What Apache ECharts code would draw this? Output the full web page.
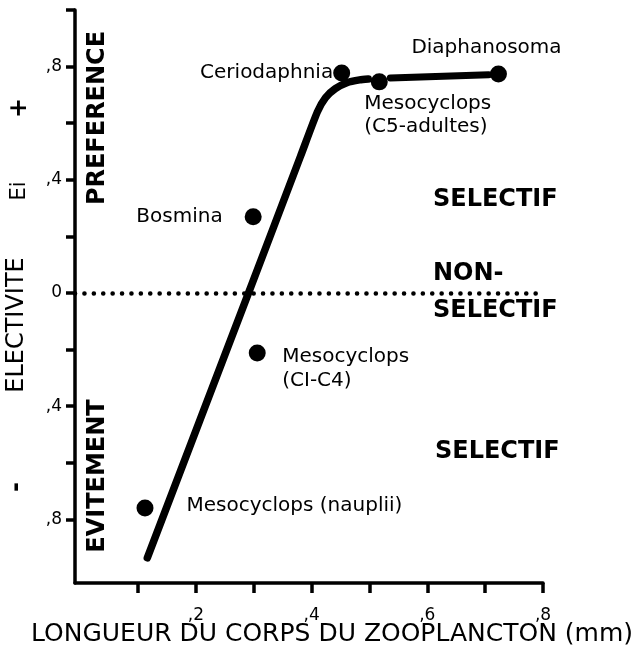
<!DOCTYPE html>
<html>
<head>
<meta charset="utf-8">
<script src="https://cdn.jsdelivr.net/npm/echarts@6/dist/echarts.min.js"></script>
<style>
html,body{margin:0;padding:0;background:#fff;}
#chart{width:642px;height:654px;}
</style>
</head>
<body>
<div id="chart"></div>
<script>
// ---- data ----
const categories = ['Ceriodaphnia', 'Mesocyclops (C5-adultes)', 'Diaphanosoma', 'Bosmina', 'Mesocyclops (CI-C4)', 'Mesocyclops (nauplii)'];
const pointLabels = ['Ceriodaphnia', 'Mesocyclops\n(C5-adultes)', 'Diaphanosoma', 'Bosmina', 'Mesocyclops\n(CI-C4)', 'Mesocyclops (nauplii)'];
const bodyLength = [0.452, 0.517, 0.723, 0.299, 0.306, 0.112];
const electivity = [0.777, 0.746, 0.774, 0.269, -0.212, -0.760];

const curveX = [0.116, 0.291, 0.381, 0.410, 0.424, 0.441, 0.461, 0.483, 0.498];
const curveY = [-0.936, 0.000, 0.484, 0.640, 0.690, 0.722, 0.743, 0.753, 0.756];
const plateauX = [0.536, 0.706];
const plateauY = [0.760, 0.771];

const xTickValues = [0.1, 0.2, 0.3, 0.4, 0.5, 0.6, 0.7, 0.8];
const xLabelValues = [0.2, 0.4, 0.6, 0.8];
const xTickLabels = [',2', ',4', ',6', ',8'];
const yTickValues = [-0.8, -0.6, -0.4, -0.2, 0, 0.2, 0.4, 0.6, 0.8, 1.0];
const yLabelValues = [-0.8, -0.4, 0, 0.4, 0.8];
const yTickLabels = [',8', ',4', '0', ',4', ',8'];

const xTitle = 'LONGUEUR DU CORPS DU ZOOPLANCTON (mm)';
const yTitleParts = ['ELECTIVITE', 'Ei', '+', '-'];
const zoneLabels = ['PREFERENCE', 'EVITEMENT'];
const selectLabels = ['SELECTIF', 'NON-', 'SELECTIF', 'SELECTIF'];

// ---- layout / styles ----
const FONT = 'DejaVu Sans';
const labelLayouts = [
  { position: 'left', distance: 0 },
  { position: [-6.5, 19], align: 'left', verticalAlign: 'top', lineHeight: 23 },
  { position: 'top', distance: 8, offset: [-12, 0] },
  { position: 'left', distance: 22 },
  { position: [33.5, 0.5], align: 'left', verticalAlign: 'top', lineHeight: 24 },
  { position: 'right', distance: 33, offset: [0, -2] }
];

function nearestLabel(v, values, labels) {
  for (let i = 0; i < values.length; i++) if (Math.abs(values[i] - v) < 1e-6) return labels[i];
  return '';
}

const chart = echarts.init(document.getElementById('chart'), null, { renderer: 'canvas' });

const scatterData = bodyLength.map((x, i) => ({
  name: categories[i],
  value: [x, electivity[i]],
  label: Object.assign({
    show: true,
    formatter: pointLabels[i],
    color: '#000',
    opacity: 1,
    fontFamily: FONT,
    fontSize: 20
  }, labelLayouts[i])
}));

const txt = (text, x, y, opts) => Object.assign({
  type: 'text',
  x: x, y: y,
  style: Object.assign({
    text: text,
    fill: '#000',
    font: '20px "' + FONT + '"',
    align: 'center',
    verticalAlign: 'middle'
  }, opts && opts.style || {}),
}, opts && opts.el || {});

const rot = Math.PI / 2;

chart.setOption({
  backgroundColor: '#fff',
  animation: false,
  grid: { left: 75, right: 99, top: 10, bottom: 71, containLabel: false },
  xAxis: {
    type: 'value',
    min: -0.009,
    max: 0.8,
    axisLine: { show: true, onZero: false, lineStyle: { color: '#000', width: 3.5 } },
    axisTick: { show: true, inside: false, length: 10, customValues: xTickValues, lineStyle: { color: '#000', width: 3.5 } },
    axisLabel: {
      customValues: xLabelValues,
      margin: 24,
      color: '#000',
      fontFamily: FONT,
      fontSize: 17,
      formatter: v => nearestLabel(v, xLabelValues, xTickLabels)
    },
    splitLine: { show: false }
  },
  yAxis: {
    type: 'value',
    min: -1.025,
    max: 1.0,
    axisLine: { show: true, onZero: false, lineStyle: { color: '#000', width: 3.5 } },
    axisTick: { show: true, inside: false, length: 9, customValues: yTickValues, lineStyle: { color: '#000', width: 3.5 } },
    axisLabel: {
      customValues: yLabelValues,
      margin: 13,
      color: '#000',
      fontFamily: FONT,
      fontSize: 17,
      formatter: v => nearestLabel(v, yLabelValues, yTickLabels)
    },
    splitLine: { show: false }
  },
  series: [
    {
      type: 'line',
      name: 'courbe',
      data: curveX.map((x, i) => [x, curveY[i]]),
      smooth: 0.2,
      symbol: 'none',
      lineStyle: { color: '#000', width: 7.5, cap: 'round', join: 'round' },
      markLine: {
        silent: true,
        symbol: 'none',
        label: { show: false },
        lineStyle: { color: '#000', width: 4.5, type: [0.1, 9.3], cap: 'round' },
        data: [{ yAxis: 0 }]
      },
      z: 2
    },
    {
      type: 'line',
      name: 'plateau',
      data: plateauX.map((x, i) => [x, plateauY[i]]),
      symbol: 'none',
      lineStyle: { color: '#000', width: 7, cap: 'round' },
      z: 2
    },
    {
      type: 'scatter',
      name: 'points',
      data: scatterData,
      symbol: 'circle',
      symbolSize: 17,
      itemStyle: { color: '#000', opacity: 1 },
      z: 3
    }
  ],
  graphic: [
    txt(yTitleParts[0], 17, 325, { style: { font: '24px "' + FONT + '"' }, el: { rotation: rot } }),
    txt(yTitleParts[1], 20, 191, { style: { font: '21px "' + FONT + '"' }, el: { rotation: rot } }),
    txt(yTitleParts[2], 20, 108, { style: { font: 'bold 24px "' + FONT + '"' }, el: { rotation: rot } }),
    txt(yTitleParts[3], 17, 487, { style: { font: 'bold 24px "' + FONT + '"' }, el: { rotation: rot } }),
    txt(zoneLabels[0], 98, 118, { style: { font: 'bold 24px "' + FONT + '"' }, el: { rotation: rot } }),
    txt(zoneLabels[1], 98, 476, { style: { font: 'bold 24px "' + FONT + '"' }, el: { rotation: rot } }),
    txt(selectLabels[0], 433, 200, { style: { font: 'bold 24px "' + FONT + '"', align: 'left' } }),
    txt(selectLabels[1], 433, 274, { style: { font: 'bold 24px "' + FONT + '"', align: 'left' } }),
    txt(selectLabels[2], 433, 311, { style: { font: 'bold 24px "' + FONT + '"', align: 'left' } }),
    txt(selectLabels[3], 435, 452, { style: { font: 'bold 24px "' + FONT + '"', align: 'left' } }),
    txt(xTitle, 332, 634, { style: { font: '25px "' + FONT + '"' } })
  ]
});
</script>
</body>
</html>
